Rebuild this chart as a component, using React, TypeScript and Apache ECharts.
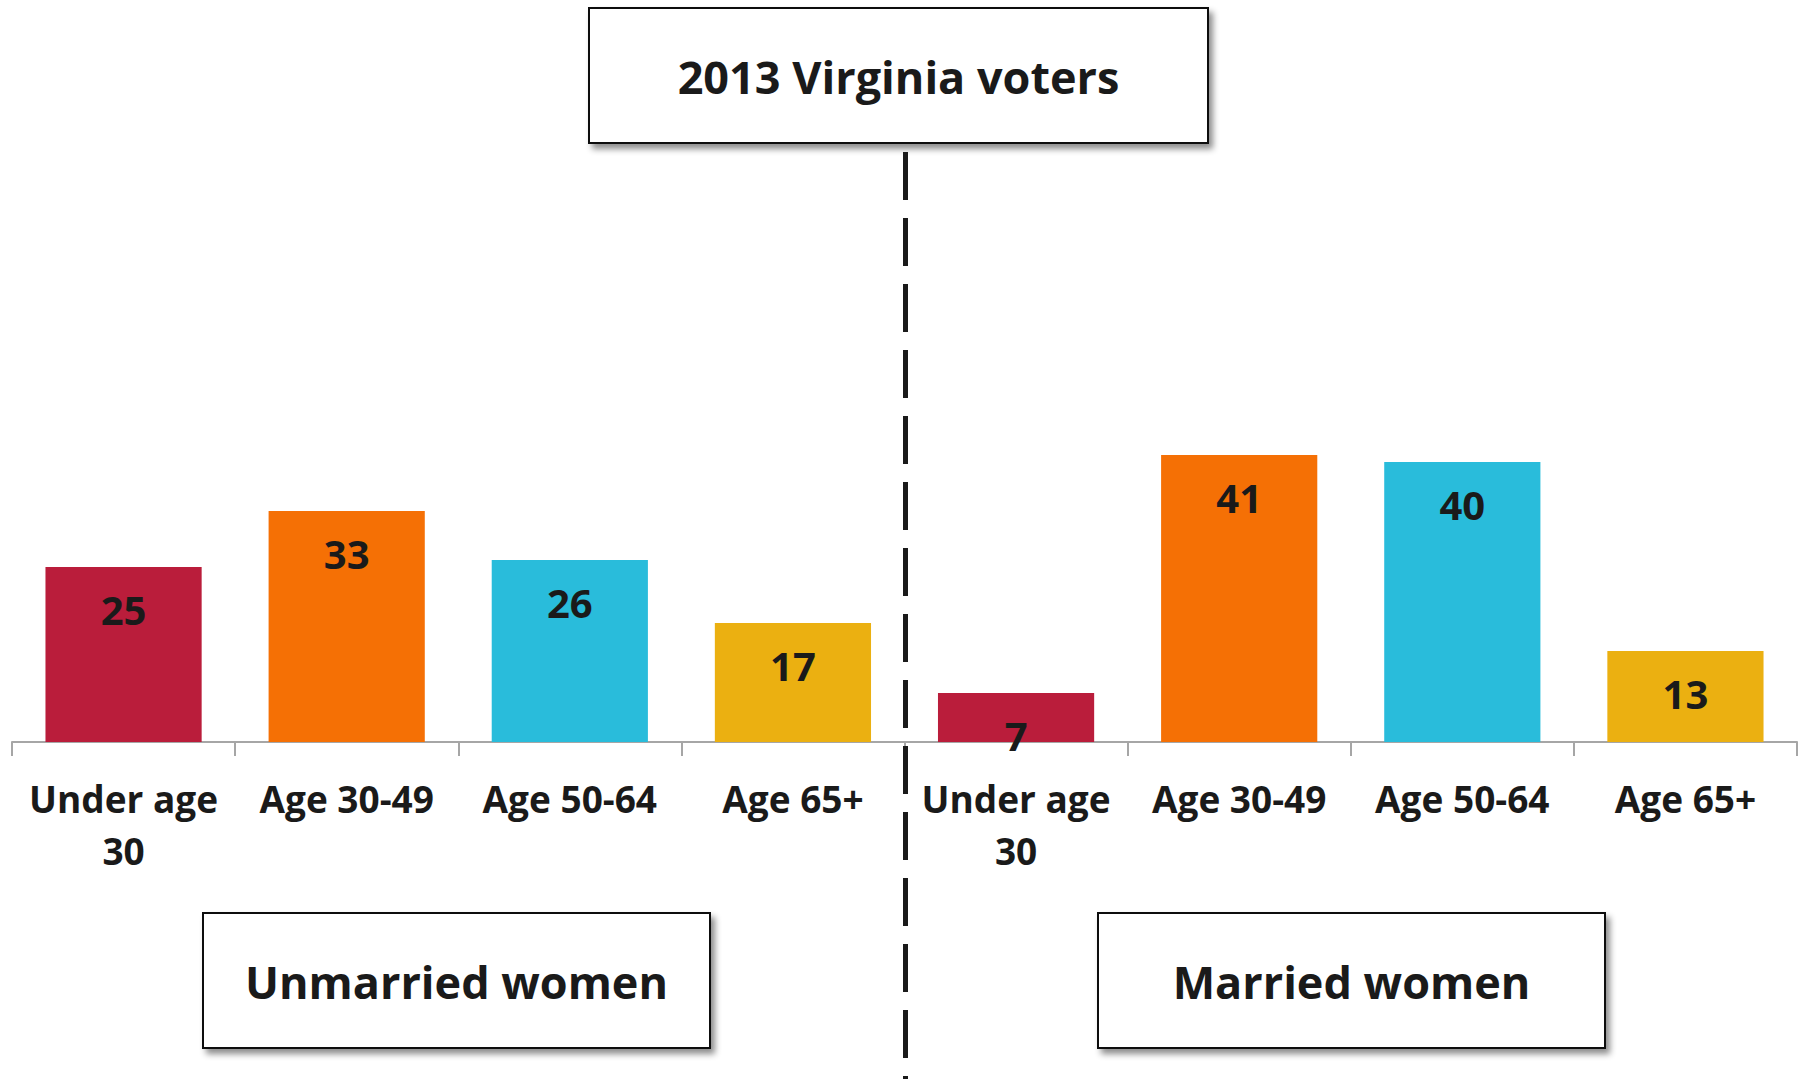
import React, { useEffect, useRef } from "react";
import * as echarts from "echarts";

const categories = [
  "Under age 30", "Age 30-49", "Age 50-64", "Age 65+",
  "Under age 30", "Age 30-49", "Age 50-64", "Age 65+",
];
const values = [25, 33, 26, 17, 7, 41, 40, 13];
const barColors = ["#BA1D3B", "#F57005", "#29BCDB", "#EBB011"];
const titleText = "2013 Virginia voters";
const groupLabels = ["Unmarried women", "Married women"];

const FONT = "'Open Sans', 'Noto Sans', sans-serif";
const TEXT = "#1a1a1a";

function box(x: number, y: number, w: number, h: number, text: string, fontSize: number) {
  return {
    type: "group",
    children: [
      {
        type: "rect",
        shape: { x, y, width: w, height: h },
        style: {
          fill: "#ffffff",
          stroke: "#111111",
          lineWidth: 2,
          shadowBlur: 6,
          shadowOffsetX: 4,
          shadowOffsetY: 5,
          shadowColor: "rgba(0,0,0,0.45)",
        },
      },
      {
        type: "text",
        x: x + w / 2,
        y: y + h / 2 + 1,
        style: {
          text,
          fill: TEXT,
          font: `bold ${fontSize}px ${FONT}`,
          align: "center",
          verticalAlign: "middle",
        },
      },
    ],
  };
}

export default function App() {
  const ref = useRef<HTMLDivElement>(null);
  useEffect(() => {
    if (!ref.current) return;
    const chart = echarts.init(ref.current, undefined, { renderer: "svg" });
    chart.setOption({
      animation: false,
      backgroundColor: "#ffffff",
      grid: { left: 12, right: 8, top: 42, bottom: 337, containLabel: false },
      xAxis: {
        type: "category",
        data: categories,
        axisLine: { lineStyle: { color: "#a6a6a6", width: 2 } },
        axisTick: { show: true, length: 14, lineStyle: { color: "#a6a6a6", width: 2 } },
        axisLabel: {
          interval: 0,
          margin: 30,
          color: TEXT,
          fontFamily: FONT,
          fontWeight: "bold",
          fontSize: 37,
          lineHeight: 52,
          formatter: (v: string) => (v === "Under age 30" ? "Under age\n30" : v),
        },
      },
      yAxis: {
        type: "value",
        min: 0,
        max: 100,
        show: false,
        splitLine: { show: false },
      },
      series: [
        {
          type: "bar",
          data: values,
          barCategoryGap: "30%",
          itemStyle: {
            color: (p: any) => barColors[p.dataIndex % barColors.length],
          },
          label: {
            show: true,
            position: ["50%", 42],
            align: "center",
            verticalAlign: "middle",
            color: TEXT,
            fontFamily: FONT,
            fontWeight: "bold",
            fontSize: 40,
          },
        },
      ],
      graphic: [
        {
          type: "line",
          shape: { x1: 905.5, y1: 152, x2: 905.5, y2: 1079 },
          style: { stroke: "#1a1a1a", lineWidth: 5, lineDash: [48, 18] },
          z: 10,
        },
        box(589, 8, 619, 135, titleText, 45),
        box(203, 913, 507, 135, groupLabels[0], 45),
        box(1098, 913, 507, 135, groupLabels[1], 45),
      ],
    });
    return () => chart.dispose();
  }, []);
  return (
    <div
      ref={ref}
      style={{ position: "fixed", left: 0, top: 0, width: 1805, height: 1079, background: "#fff" }}
    />
  );
}
